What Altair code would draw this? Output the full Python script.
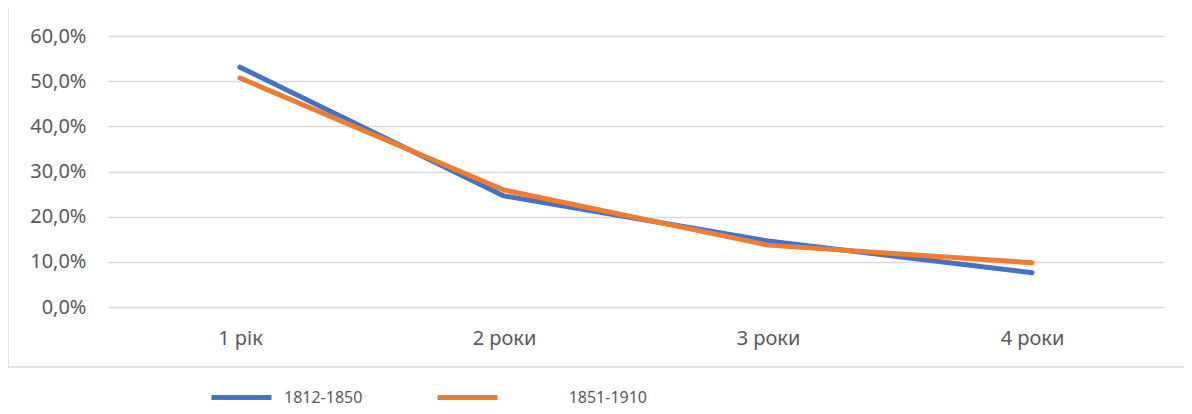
import altair as alt
import pandas as pd

categories = ["1 рік", "2 роки", "3 роки", "4 роки"]
series_a_name = "1812-1850"
series_b_name = "1851-1910"
series_a = [0.531, 0.246, 0.146, 0.076]
series_b = [0.507, 0.259, 0.137, 0.098]

rows = []
for c, v in zip(categories, series_a):
    rows.append({"cat": c, "series": series_a_name, "value": v})
for c, v in zip(categories, series_b):
    rows.append({"cat": c, "series": series_b_name, "value": v})
df = pd.DataFrame(rows)

FONT = "Noto Sans"
TXT = "#595959"
FS = 20
LFS = 16
PAD = "\u200b\u2003\u2003\u2003\u2002\u2009"

lines = alt.Chart(df).mark_line(strokeWidth=5, strokeCap="round", strokeJoin="round").encode(
    x=alt.X("cat:N", sort=categories, title=None,
            scale=alt.Scale(type="point", padding=0.5),
            axis=alt.Axis(domain=False, ticks=False, grid=False, labelAngle=0,
                          labelPadding=21, labelFontSize=FS, labelColor=TXT, labelFont=FONT)),
    y=alt.Y("value:Q", title=None,
            scale=alt.Scale(domain=[0, 0.6], nice=False),
            axis=alt.Axis(values=[0, 0.1, 0.2, 0.3, 0.4, 0.5, 0.6], domain=False, ticks=False,
                          gridColor="#d9d9d9", gridWidth=1.5, labelPadding=22,
                          labelFontSize=FS, labelColor=TXT, labelFont=FONT,
                          labelExpr="replace(format(datum.value, '.1%'), '.', ',')")),
    color=alt.Color("series:N", sort=[series_a_name, series_b_name],
                    scale=alt.Scale(domain=[series_a_name, series_b_name],
                                    range=["#4472C4", "#ED7D31"]),
                    legend=alt.Legend(title=None, orient="none", legendX=101, legendY=329,
                                      direction="horizontal", symbolType="stroke",
                                      symbolSize=3600, symbolStrokeWidth=5,
                                      labelFontSize=LFS, labelColor=TXT, labelFont=FONT,
                                      labelOffset=10, columnPadding=64, gridAlign="none",
                                      labelExpr="datum.label == '" + series_b_name + "' ? '" + PAD + "' + datum.label : datum.label")),
)

frame = pd.DataFrame({"a": [0]})
BC = "#d9d9d9"
top = alt.Chart(frame).mark_rule(stroke=BC, strokeWidth=1.5).encode(
    x=alt.value(-100), x2=alt.value(1100), y=alt.value(-29))
bottom = alt.Chart(frame).mark_rule(stroke=BC, strokeWidth=1.5).encode(
    x=alt.value(-100), x2=alt.value(1100), y=alt.value(331))
left = alt.Chart(frame).mark_rule(stroke=BC, strokeWidth=1.5).encode(
    x=alt.value(-100), y=alt.value(-29), y2=alt.value(331))

chart = alt.layer(top, bottom, left, lines).properties(
    width=1056, height=271,
    background="white",
    autosize=alt.AutoSizeParams(type="none"),
    padding={"left": 100, "top": 28, "right": 20, "bottom": 99},
).configure_view(stroke=None, strokeWidth=0)

chart.save("out.html", embed_options={"renderer": "svg", "actions": False})
